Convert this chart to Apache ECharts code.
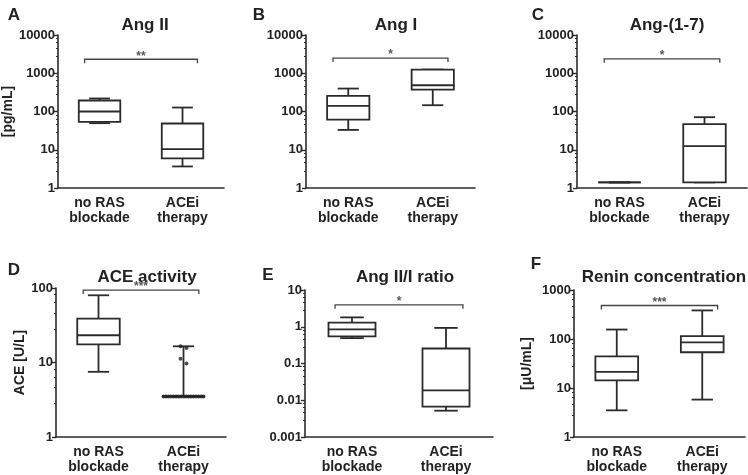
<!DOCTYPE html>
<html><head><meta charset="utf-8">
<script src="https://cdn.jsdelivr.net/npm/echarts@6/dist/echarts.min.js"></script>
<style>html,body{margin:0;padding:0;background:#fff}#c{width:748px;height:475px}</style>
</head><body><div id="c"></div>
<script>
// ---------- data ----------
const categories = ['no RAS\nblockade', 'ACEi\ntherapy'];
// five-number summaries: [min, Q1, median, Q3, max]
const angII_noRAS = [49.5, 53.6, 100, 194, 219];
const angII_acei  = [3.66, 5.93, 10.4, 48.6, 127];
const angI_noRAS  = [33, 61, 141, 257, 398];
const angI_acei   = [146, 375, 486, 1250, 1250];
const ang17_noRAS = [1.4, 1.4, 1.4, 1.4, 1.4];
const ang17_acei  = [1.4, 1.4, 12.5, 47, 71];
const ace_noRAS   = [7.5, 17.5, 23.2, 38.8, 79.8];
const ace_acei    = [3.5, 3.5, 3.5, 3.5, 16.5];
const ace_acei_points = [16.5, 15.6, 11.2, 9.7, 3.5, 3.5, 3.5, 3.5, 3.5, 3.5, 3.5, 3.5, 3.5, 3.5, 3.5, 3.5, 3.5, 3.5, 3.5, 3.5, 3.5];
const ratio_noRAS = [0.49, 0.55, 0.85, 1.3, 1.8];
const ratio_acei  = [0.0052, 0.0067, 0.0186, 0.256, 0.93];
const renin_noRAS = [3.5, 14.3, 21.3, 44, 156];
const renin_acei  = [5.8, 53.7, 85.4, 115, 383];
const bracketLevels = [2320, 2500, 2380, 93.8, 3.96, 483];
const stars = ['**', '*', '*', '***', '*', '***'];
const panelTitles = ['Ang II', 'Ang I', 'Ang-(1-7)', 'ACE activity', 'Ang II/I ratio', 'Renin concentration'];
const panelLetters = ['A', 'B', 'C', 'D', 'E', 'F'];
const yNames = ['[pg/mL]', '', '', 'ACE [U/L]', '', '[\u03bcU/mL]'];
const yMins = [1, 1, 1, 1, 0.001, 1];
const yMaxs = [10000, 10000, 10000, 100, 10, 1000];

const panelBoxes = [
  [angII_noRAS, angII_acei],
  [angI_noRAS, angI_acei],
  [ang17_noRAS, ang17_acei],
  [ace_noRAS, ace_acei],
  [ratio_noRAS, ratio_acei],
  [renin_noRAS, renin_acei]
];

// ---------- layout ----------
const grids = [
  {left: 53, top: 35, width: 171, height: 153},
  {left: 306, top: 35, width: 169, height: 153},
  {left: 577, top: 35, width: 170, height: 153},
  {left: 56, top: 288, width: 170, height: 151},
  {left: 305, top: 290, width: 188, height: 149},
  {left: 574, top: 290, width: 171, height: 149}
];
const titlePos = [[140, 12], [391, 12], [662, 12], [142, 264], [400, 264], [659, 264]];
const letterPos = [[9, 2], [254, 2], [533, 2], [9, 257], [263, 262], [531, 251]];
const nameGaps = [40, 0, 0, 27, 0, 40];

const FONT = '"Liberation Sans", Arial, sans-serif';
const INK = '#2b2b2b';

// simple dodge: points with (nearly) equal values are spread side by side around the category centre
function dodgeOffsets(values) {
  const groups = [];
  values.forEach((v, i) => {
    let g = groups.find(gr => Math.abs(Math.log10(gr.v) - Math.log10(v)) < 0.08);
    if (!g) { g = {v: v, idx: []}; groups.push(g); }
    g.idx.push(i);
  });
  const off = new Array(values.length).fill(0);
  groups.forEach(g => {
    const n = g.idx.length;
    const step = Math.min(0.07, 0.5 / n);
    g.idx.forEach((idx, k) => { off[idx] = (k - (n - 1) / 2) * step; });
  });
  return off;
}

function boxRender(params, api) {
  const xi = api.value(0);
  const band = api.size([1, 1], [xi, 1])[0];
  const half = band * 0.25, cap = band * 0.125;
  const cx = api.coord([xi, api.value(3)])[0];
  const yMin = api.coord([xi, api.value(1)])[1];
  const yQ1 = api.coord([xi, api.value(2)])[1];
  const yMed = api.coord([xi, api.value(3)])[1];
  const yQ3 = api.coord([xi, api.value(4)])[1];
  const yMax = api.coord([xi, api.value(5)])[1];
  const st = {stroke: INK, lineWidth: 1.8, fill: null};
  return {type: 'group', children: [
    {type: 'line', shape: {x1: cx, y1: yQ3, x2: cx, y2: yMax}, style: st},
    {type: 'line', shape: {x1: cx, y1: yQ1, x2: cx, y2: yMin}, style: st},
    {type: 'line', shape: {x1: cx - cap, y1: yMax, x2: cx + cap, y2: yMax}, style: st},
    {type: 'line', shape: {x1: cx - cap, y1: yMin, x2: cx + cap, y2: yMin}, style: st},
    {type: 'rect', shape: {x: cx - half, y: yQ3, width: 2 * half, height: yQ1 - yQ3}, style: {stroke: INK, lineWidth: 1.8, fill: '#fff'}},
    {type: 'line', shape: {x1: cx - half, y1: yMed, x2: cx + half, y2: yMed}, style: st}
  ]};
}

function makeBracketRender(label) {
  return function (params, api) {
    const lv = api.value(1);
    const p0 = api.coord([0, lv]);
    const p1 = api.coord([1, lv]);
    const band = api.size([1, 1], [0, lv])[0];
    const l = p0[0] - band * 0.18, r = p1[0] + band * 0.18, y = p0[1];
    return {type: 'group', children: [
      {type: 'polyline', shape: {points: [[l, y + 4], [l, y], [r, y], [r, y + 4]]}, style: {stroke: '#444', lineWidth: 1.3, fill: null}},
      {type: 'text', x: (l + r) / 2, y: y - 3, style: {text: label, align: 'center', verticalAlign: 'middle', font: 'bold 12px ' + FONT, fill: '#555'}}
    ]};
  };
}

const option = {
  animation: false,
  backgroundColor: '#fff',
  title: [],
  grid: grids.map(g => Object.assign({containLabel: false}, g)),
  xAxis: [],
  yAxis: [],
  series: []
};

for (let i = 0; i < 6; i++) {
  option.title.push({
    text: panelTitles[i], left: titlePos[i][0], top: titlePos[i][1], textAlign: 'center',
    textStyle: {fontFamily: FONT, fontWeight: 'bold', fontSize: 17, color: '#222'}
  });
  option.title.push({
    text: panelLetters[i], left: letterPos[i][0], top: letterPos[i][1], textAlign: 'center',
    textStyle: {fontFamily: FONT, fontWeight: 'bold', fontSize: 17, color: '#222'}
  });
  option.xAxis.push({
    type: 'category', gridIndex: i, data: categories, boundaryGap: true,
    axisLine: {onZero: false, lineStyle: {color: INK, width: 1.6}},
    axisTick: {show: false},
    axisLabel: {fontFamily: FONT, fontWeight: 'bold', fontSize: 14, lineHeight: 15, color: '#222', margin: 8}
  });
  option.yAxis.push({
    type: 'log', logBase: 10, gridIndex: i, min: yMins[i], max: yMaxs[i], position: 'left',
    name: yNames[i], nameLocation: 'middle', nameRotate: 90, nameGap: nameGaps[i],
    nameTextStyle: {fontFamily: FONT, fontWeight: 'bold', fontSize: 14, color: '#222'},
    axisLine: {show: true, onZero: false, lineStyle: {color: INK, width: 1.6}},
    axisTick: {show: true, length: 4, lineStyle: {color: INK, width: 1.4}},
    minorTick: {show: true, length: 2, lineStyle: {color: INK, width: 1}},
    splitLine: {show: false},
    axisLabel: {fontFamily: FONT, fontWeight: 'bold', fontSize: 13, color: '#222', margin: 3,
      formatter: v => String(v)}
  });
  option.series.push({
    type: 'custom', xAxisIndex: i, yAxisIndex: i, renderItem: boxRender,
    encode: {x: 0, y: [1, 2, 3, 4, 5]},
    data: panelBoxes[i].map((b, k) => [k].concat(b)), silent: true, clip: false
  });
  option.series.push({
    type: 'custom', xAxisIndex: i, yAxisIndex: i, renderItem: makeBracketRender(stars[i]),
    encode: {x: 0, y: 1},
    data: [[0, bracketLevels[i]]], silent: true, clip: false
  });
}
// hidden value axis in panel D (same span as its category axis: index -0.5 .. 1.5) for dodged points
option.xAxis.push({type: 'value', gridIndex: 3, min: -0.5, max: 1.5, show: false, position: 'top',
  axisLine: {onZero: false}});
const aceOffsets = dodgeOffsets(ace_acei_points);
option.series.push({
  type: 'scatter', xAxisIndex: 6, yAxisIndex: 3, symbol: 'circle', symbolSize: 4,
  itemStyle: {color: '#222'}, silent: true,
  data: ace_acei_points.map((v, k) => [1 + aceOffsets[k], v])
});

const chart = echarts.init(document.getElementById('c'), null, {renderer: 'canvas'});
chart.setOption(option);
</script></body></html>
